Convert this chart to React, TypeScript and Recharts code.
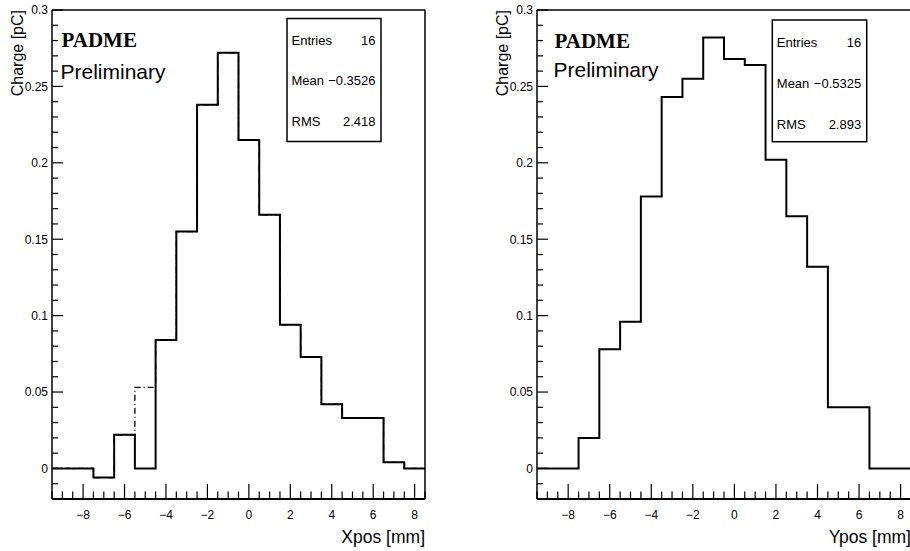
import React from "react";
import { ComposedChart, Line, XAxis, YAxis, ReferenceLine, Label } from "recharts";

// bin centres (1 mm bins, edges at half-integers)
const binCenters = [-9, -8, -7, -6, -5, -4, -3, -2, -1, 0, 1, 2, 3, 4, 5, 6, 7, 8];

// charge per bin [pC]
const xposCharge = [0, 0, -0.006, 0.022, 0, 0.084, 0.155, 0.238, 0.272, 0.215, 0.166, 0.094, 0.073, 0.042, 0.033, 0.033, 0.004, 0];
const xposChargeAlt = [0, 0, -0.006, 0.022, 0.053, 0.084, 0.155, 0.238, 0.272, 0.215, 0.166, 0.094, 0.073, 0.042, 0.033, 0.033, 0.004, 0];
const yposCharge = [0, 0, 0.02, 0.078, 0.096, 0.178, 0.243, 0.255, 0.282, 0.268, 0.264, 0.202, 0.165, 0.132, 0.04, 0.04, 0, 0];

const xMajorTicks = [-8, -6, -4, -2, 0, 2, 4, 6, 8];
const yMajorTicks = [0, 0.05, 0.1, 0.15, 0.2, 0.25, 0.3];

const xStats = { entries: "16", mean: "\u22120.3526", rms: "2.418" };
const yStats = { entries: "16", mean: "\u22120.5325", rms: "2.893" };

const X_MIN = -9.5;
const X_MAX = 8.5;
const Y_MIN = -0.02;
const Y_MAX = 0.3;

const FONT = "'Liberation Sans', Arial, Helvetica, sans-serif";

// minor ticks: every 0.5 mm on x, every 0.01 pC on y
const xTicks: number[] = [];
for (let i = -19; i <= 17; i++) xTicks.push(i / 2);
const yTicks: number[] = [];
for (let i = -2; i <= 30; i++) yTicks.push(i / 100);

function toSteps(values: number[], alt?: number[]) {
  const rows = binCenters.map((c, i) => ({
    edge: c - 0.5,
    q: values[i],
    alt: alt ? alt[i] : undefined,
  }));
  const last = binCenters.length - 1;
  rows.push({ edge: binCenters[last] + 0.5, q: values[last], alt: alt ? alt[last] : undefined });
  return rows;
}

const fmt = (v: number) => (v < 0 ? "\u2212" + Math.abs(v) : String(v));

const XTick = (props: any) => {
  const { x, y, payload } = props;
  const v = payload.value;
  const major = xMajorTicks.some((m) => Math.abs(m - v) < 1e-9);
  return (
    <g>
      <line x1={x} x2={x} y1={y} y2={y - (major ? 15 : 7.5)} stroke="#000" strokeWidth={1.2} />
      {major && (
        <text x={x} y={y + 20.3} textAnchor="middle" fontSize={12} fontFamily={FONT} fill="#000">
          {fmt(v)}
        </text>
      )}
    </g>
  );
};

const YTick = (props: any) => {
  const { x, y, payload } = props;
  const v = payload.value;
  const major = yMajorTicks.some((m) => Math.abs(m - v) < 1e-9);
  return (
    <g>
      <line x1={x} x2={x + (major ? 11 : 6)} y1={y} y2={y} stroke="#000" strokeWidth={1.2} />
      {major && (
        <text x={x - 4} y={y + 4.3} textAnchor="end" fontSize={12} fontFamily={FONT} fill="#000">
          {fmt(v)}
        </text>
      )}
    </g>
  );
};

interface PanelProps {
  left: number;
  width: number;
  marginRight: number;
  frameRight: boolean;
  values: number[];
  alt?: number[];
  xTitle: string;
  stats: { entries: string; mean: string; rms: string };
  textX: number;
  padmeY: number;
  prelimY: number;
  box: { x: number; y: number; w: number; h: number; rows: number[] };
}

function Panel(p: PanelProps) {
  const { left, width, marginRight, frameRight, values, alt, xTitle, stats, textX, padmeY, prelimY, box } = p;
  const data = toSteps(values, alt);
  const rows = [
    ["Entries", stats.entries],
    ["Mean", stats.mean],
    ["RMS", stats.rms],
  ];
  const frame = { stroke: "#000", strokeWidth: 1.5, ifOverflow: "visible" as const };
  return (
    <div style={{ position: "absolute", left, top: 0, width, height: 551 }}>
      <ComposedChart
        width={width}
        height={551}
        data={data}
        margin={{ top: 10, right: marginRight, bottom: 0, left: 0 }}
        style={{ fontFamily: FONT }}
      >
        <XAxis
          dataKey="edge"
          type="number"
          domain={[X_MIN, X_MAX]}
          ticks={xTicks}
          interval={0}
          allowDataOverflow
          height={52}
          tickSize={0}
          tickMargin={0}
          tickLine={false}
          axisLine={{ stroke: "#000", strokeWidth: 2 }}
          tick={<XTick />}
        >
          <Label
            content={({ viewBox }: any) => (
              <text
                x={viewBox.x + viewBox.width}
                y={viewBox.y + 44}
                textAnchor="end"
                fontSize={17.5}
                fontFamily={FONT}
                fill="#000"
              >
                {xTitle}
              </text>
            )}
          />
        </XAxis>
        <YAxis
          type="number"
          domain={[Y_MIN, Y_MAX]}
          ticks={yTicks}
          interval={0}
          allowDataOverflow
          width={52}
          tickSize={0}
          tickMargin={0}
          tickLine={false}
          axisLine={false}
          tick={<YTick />}
        >
          <Label
            content={({ viewBox }: any) => {
              const lx = viewBox.x + viewBox.width - 29;
              const ly = 10;
              return (
                <text
                  x={lx}
                  y={ly}
                  transform={`rotate(-90, ${lx}, ${ly})`}
                  textAnchor="end"
                  fontSize={16}
                  fontFamily={FONT}
                  fill="#000"
                >
                  Charge [pC]
                </text>
              );
            }}
          />
        </YAxis>
        <ReferenceLine y={Y_MAX} {...frame} />
        <ReferenceLine x={X_MIN} {...frame} />
        {frameRight && <ReferenceLine x={X_MAX} {...frame} />}
        {alt && (
          <Line
            dataKey="alt"
            type="stepAfter"
            stroke="#000"
            strokeWidth={1.3}
            strokeDasharray="6 3 1 3"
            dot={false}
            activeDot={false}
            isAnimationActive={false}
          />
        )}
        <Line
          dataKey="q"
          type="stepAfter"
          stroke="#000"
          strokeWidth={2}
          dot={false}
          activeDot={false}
          isAnimationActive={false}
        />
      </ComposedChart>
      <svg
        width={width}
        height={551}
        style={{ position: "absolute", left: 0, top: 0, pointerEvents: "none" }}
      >
        <text x={textX} y={padmeY} fontSize={21} fontWeight="bold" fontFamily="'Liberation Serif', 'Times New Roman', serif" fill="#000">
          PADME
        </text>
        <text x={textX - 1} y={prelimY} fontSize={21} fontFamily={FONT} fill="#000">
          Preliminary
        </text>
        <rect x={box.x} y={box.y} width={box.w} height={box.h} fill="#fff" stroke="#000" strokeWidth={1.5} />
        {rows.map(([k, v], i) => (
          <g key={k}>
            <text x={box.x + 4.5} y={box.rows[i] + 4.6} fontSize={13} fontFamily={FONT} fill="#000">
              {k}
            </text>
            <text x={box.x + box.w - 5.5} y={box.rows[i] + 4.6} fontSize={13} fontFamily={FONT} textAnchor="end" fill="#000">
              {v}
            </text>
          </g>
        ))}
      </svg>
    </div>
  );
}

export default function App() {
  return (
    <div
      style={{
        position: "absolute",
        left: 0,
        top: 0,
        width: 910,
        height: 551,
        overflow: "hidden",
        background: "#fff",
      }}
    >
      <Panel
        left={0}
        width={460}
        marginRight={35}
        frameRight
        values={xposCharge}
        alt={xposChargeAlt}
        xTitle="Xpos [mm]"
        stats={xStats}
        textX={61.5}
        padmeY={47}
        prelimY={79.3}
        box={{ x: 287, y: 18.5, w: 94, h: 123, rows: [40, 80, 121.7] }}
      />
      <Panel
        left={485}
        width={426}
        marginRight={0}
        frameRight={false}
        values={yposCharge}
        xTitle="Ypos [mm]"
        stats={yStats}
        textX={69.5}
        padmeY={48.3}
        prelimY={77}
        box={{ x: 287.3, y: 20, w: 94.4, h: 121.7, rows: [42.5, 83.5, 124] }}
      />
    </div>
  );
}
